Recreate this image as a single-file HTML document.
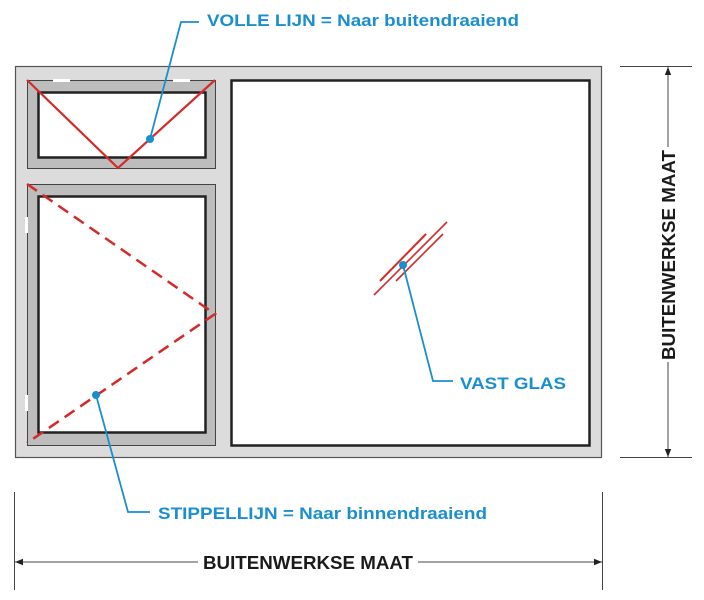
<!DOCTYPE html>
<html><head><meta charset="utf-8"><style>
html,body{margin:0;padding:0;background:#fff;width:704px;height:600px;overflow:hidden}
svg{display:block}
text{font-family:"Liberation Sans",Arial,sans-serif;font-weight:bold}
</style></head><body>
<svg width="704" height="600" viewBox="0 0 704 600" xmlns="http://www.w3.org/2000/svg">
<defs>
<marker id="ar" viewBox="0 0 10 10" refX="10" refY="5" markerWidth="10" markerHeight="8" orient="auto-start-reverse" markerUnits="userSpaceOnUse"><path d="M0,1 L10,5 L0,9 Z" fill="#222"/></marker>
</defs>
<!-- outer frame -->
<rect x="15.5" y="66.5" width="586" height="391" fill="#dcdcdc" stroke="#555" stroke-width="1.2"/>
<!-- top sash -->
<rect x="27.5" y="80.5" width="188" height="88" fill="#bdbdbd" stroke="#444" stroke-width="1"/>
<rect x="38.5" y="92.5" width="167" height="65" fill="#fff" stroke="#222" stroke-width="2.5"/>
<rect x="53" y="79" width="17" height="3" fill="#fff"/>
<rect x="173" y="79" width="17" height="3" fill="#fff"/>
<!-- bottom sash -->
<rect x="27.5" y="184.5" width="188" height="261" fill="#bdbdbd" stroke="#444" stroke-width="1"/>
<rect x="38.5" y="196.5" width="167" height="236" fill="#fff" stroke="#222" stroke-width="2.5"/>
<rect x="25" y="217" width="3" height="16" fill="#fff"/>
<rect x="25" y="395" width="3" height="16" fill="#fff"/>
<!-- right glass -->
<rect x="231.5" y="80.5" width="358" height="365" fill="#fff" stroke="#222" stroke-width="2.5"/>
<!-- red V -->
<polyline points="27,80 118,168 215,80" fill="none" stroke="#d42a2a" stroke-width="2.2"/>
<!-- dashed -->
<polyline points="27,184 215,314 27,443" fill="none" stroke="#d42a2a" stroke-width="2.5" stroke-dasharray="12,7"/>
<!-- vast glas marks -->
<line x1="380" y1="281" x2="426" y2="234" stroke="#d42a2a" stroke-width="2"/>
<line x1="374" y1="295" x2="447" y2="222" stroke="#d42a2a" stroke-width="1.6"/>
<line x1="396" y1="281" x2="443" y2="234" stroke="#d42a2a" stroke-width="1.6"/>
<!-- blue callouts -->
<g stroke="#1a8fd0" stroke-width="1.8" fill="none">
<polyline points="150,139 181,22 199,22"/>
<polyline points="96,395 128,512 150,512"/>
<polyline points="403,265 433,381 453,381"/>
</g>
<g fill="#1a8fd0">
<circle cx="150" cy="139" r="4"/>
<circle cx="96" cy="395" r="4"/>
<circle cx="403" cy="265" r="4"/>
</g>
<text x="207" y="26" font-size="17" fill="#1a8fd0" textLength="312" lengthAdjust="spacingAndGlyphs">VOLLE LIJN = Naar buitendraaiend</text>
<text x="158" y="519" font-size="17" fill="#1a8fd0" textLength="329" lengthAdjust="spacingAndGlyphs">STIPPELLIJN = Naar binnendraaiend</text>
<text x="460" y="389" font-size="17" fill="#1a8fd0" textLength="106" lengthAdjust="spacingAndGlyphs">VAST GLAS</text>
<!-- right dimension -->
<g stroke="#444" stroke-width="1">
<line x1="620" y1="66.5" x2="692" y2="66.5"/>
<line x1="620" y1="457.5" x2="692" y2="457.5"/>
<line x1="668" y1="147" x2="668" y2="67" marker-end="url(#ar)"/>
<line x1="668" y1="362" x2="668" y2="457" marker-end="url(#ar)"/>
<line x1="14.5" y1="492" x2="14.5" y2="590"/>
<line x1="602.5" y1="492" x2="602.5" y2="590"/>
<line x1="198" y1="562" x2="15" y2="562" marker-end="url(#ar)"/>
<line x1="418" y1="562" x2="602" y2="562" marker-end="url(#ar)"/>
</g>
<text x="0" y="0" font-size="18" fill="#1a1a1a" textLength="210" lengthAdjust="spacingAndGlyphs" transform="translate(675,360) rotate(-90)">BUITENWERKSE MAAT</text>
<text x="203" y="569" font-size="18" fill="#1a1a1a" textLength="210" lengthAdjust="spacingAndGlyphs">BUITENWERKSE MAAT</text>
</svg>
</body></html>
